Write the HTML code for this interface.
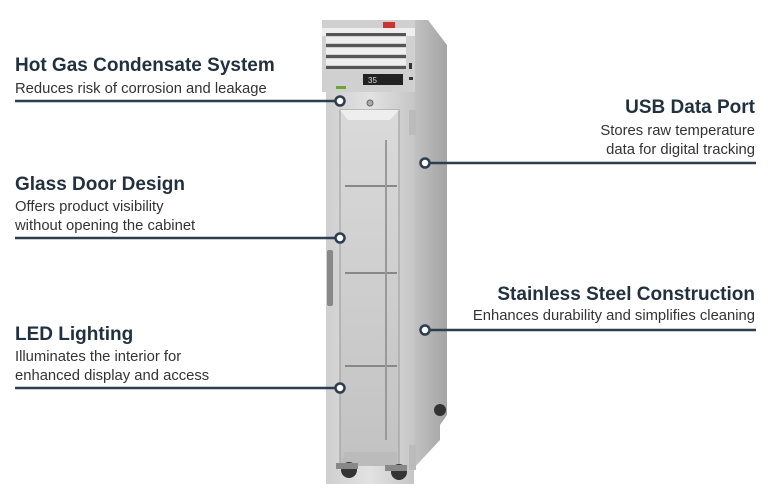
<!DOCTYPE html>
<html><head><style>
body{margin:0;width:770px;height:500px;background:#fff;position:relative;overflow:hidden;font-family:"Liberation Sans",sans-serif}
.t{position:absolute;font-weight:bold;font-size:19px;color:#22313f;white-space:nowrap;line-height:22px}
.s{position:absolute;font-size:14.8px;color:#333;white-space:nowrap;line-height:19px}
.r{text-align:right;right:15px}
.l{left:15px}
</style></head><body>
<svg width="770" height="500" style="position:absolute;left:0;top:0">
<defs>
<linearGradient id="fr" x1="0" x2="1"><stop offset="0" stop-color="#cfcfcf"/><stop offset=".5" stop-color="#e2e2e2"/><stop offset="1" stop-color="#c6c6c6"/></linearGradient>
<linearGradient id="sd" x1="0" x2="1"><stop offset="0" stop-color="#c4c4c4"/><stop offset="1" stop-color="#a4a4a4"/></linearGradient>
<linearGradient id="gl" x1="0" y1="0" x2="0" y2="1"><stop offset="0" stop-color="#dadada"/><stop offset="1" stop-color="#c2c2c2"/></linearGradient>
</defs>
<polygon points="412,20 428,20 447,45 447,415 440,425 440,440 412,470" fill="url(#sd)"/>
<rect x="322" y="20" width="93" height="72" fill="#d0d0d0"/>
<rect x="322" y="28" width="93" height="8" fill="#eee"/>
<g fill="#555"><rect x="326" y="33" width="80" height="3"/><rect x="326" y="44" width="80" height="3"/><rect x="326" y="55" width="80" height="3"/><rect x="326" y="66" width="80" height="3"/></g>
<g fill="#eee"><rect x="326" y="37" width="80" height="6"/><rect x="326" y="48" width="80" height="6"/><rect x="326" y="59" width="80" height="6"/></g>
<rect x="383" y="22" width="12" height="6" fill="#c33"/>
<rect x="363" y="74" width="40" height="11" fill="#222"/>
<text x="368" y="83" font-size="8" fill="#ddd" font-family="Liberation Sans">35</text>
<rect x="336" y="86" width="10" height="3" fill="#6a3"/>
<rect x="409" y="63" width="3" height="6" fill="#333"/>
<rect x="409" y="77" width="4" height="3" fill="#333"/>
<rect x="326" y="92" width="88" height="392" fill="url(#fr)"/>
<rect x="340" y="110" width="59" height="355" fill="url(#gl)" stroke="#999" stroke-width="1"/>
<polygon points="340,110 399,110 390,120 348,120" fill="#eee"/>
<g stroke="#888" stroke-width="2"><line x1="345" y1="186" x2="397" y2="186"/><line x1="345" y1="273" x2="397" y2="273"/><line x1="345" y1="366" x2="397" y2="366"/></g>
<line x1="386" y1="140" x2="386" y2="440" stroke="#999" stroke-width="2"/>
<polygon points="345,452 397,452 397,465 340,465" fill="#bbb"/>
<rect x="327" y="250" width="6" height="56" fill="#888" rx="2"/>
<rect x="409" y="110" width="7" height="25" fill="#bbb"/>
<rect x="409" y="445" width="7" height="25" fill="#bbb"/>
<circle cx="370" cy="103" r="3" fill="#aaa" stroke="#666"/>
<g fill="#333"><circle cx="349" cy="470" r="8"/><circle cx="399" cy="472" r="8"/><circle cx="440" cy="410" r="6"/></g>
<rect x="336" y="463" width="22" height="6" fill="#888"/><rect x="385" y="465" width="22" height="6" fill="#888"/>
<g stroke="#2c3e50" stroke-width="2.5">
<line x1="15" y1="101" x2="340" y2="101"/>
<line x1="15" y1="238" x2="340" y2="238"/>
<line x1="15" y1="388" x2="340" y2="388"/>
<line x1="425" y1="163" x2="756" y2="163"/>
<line x1="425" y1="330" x2="756" y2="330"/>
</g>
<g fill="#fff" stroke="#2c3e50" stroke-width="2.5">
<circle cx="340" cy="101" r="4.5"/><circle cx="340" cy="238" r="4.5"/><circle cx="340" cy="388" r="4.5"/>
<circle cx="425" cy="163" r="4.5"/><circle cx="425" cy="330" r="4.5"/>
</g>
</svg>
<div class="t l" style="top:55px">Hot Gas Condensate System</div>
<div class="s l" style="top:80px">Reduces risk of corrosion and leakage</div>
<div class="t l" style="top:174px">Glass Door Design</div>
<div class="s l" style="top:198px">Offers product visibility<br>without opening the cabinet</div>
<div class="t r" style="top:97px">USB Data Port</div>
<div class="s r" style="top:122px">Stores raw temperature<br>data for digital tracking</div>
<div class="t l" style="top:324px">LED Lighting</div>
<div class="s l" style="top:348px">Illuminates the interior for<br>enhanced display and access</div>
<div class="t r" style="top:284px">Stainless Steel Construction</div>
<div class="s r" style="top:307px">Enhances durability and simplifies cleaning</div>
</body></html>
